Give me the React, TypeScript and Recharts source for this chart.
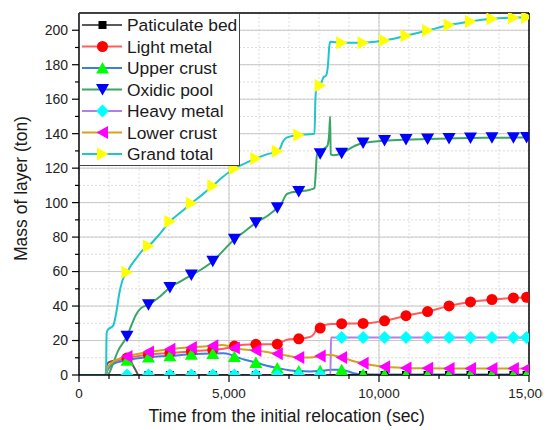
import React from "react";
import { LineChart, Line, XAxis, YAxis, CartesianGrid, Legend, Label, ReferenceLine } from "recharts";

const FONT = '"Liberation Sans", Arial, sans-serif';

// sample times (sec) where Origin put a symbol
const markerTimes = [1600, 2315, 3030, 3745, 4460, 5180, 5895, 6610, 7325, 8040, 8755, 9470, 10185, 10900, 11620, 12335, 13050, 13765, 14480, 14920];

const xTicks = [0, 1000, 2000, 3000, 4000, 5000, 6000, 7000, 8000, 9000, 10000, 11000, 12000, 13000, 14000, 15000];
const xMajor = [0, 5000, 10000, 15000];
const yTicks = [0, 10, 20, 30, 40, 50, 60, 70, 80, 90, 100, 110, 120, 130, 140, 150, 160, 170, 180, 190, 200];
const yMajor = [0, 20, 40, 60, 80, 100, 120, 140, 160, 180, 200];

const paticulateBed: [number, number][] = [
  [0, 0], [880, 0], [930, 6], [1000, 7.5], [1200, 8.4], [1400, 9.3], [1600, 9.8], [1700, 8.5], [1800, 5.5],
  [1900, 2.5], [1980, 0], [2315, 0], [3030, 0], [3745, 0], [4460, 0], [5180, 0], [5895, 0], [6610, 0],
  [7325, 0], [8040, 0], [8755, 0], [9470, 0], [10185, 0], [10900, 0], [11620, 0], [12335, 0], [13050, 0],
  [13765, 0], [14480, 0], [14920, 0], [15000, 0],
];

const lightMetal: [number, number][] = [
  [0, 0], [880, 0], [950, 3], [1050, 5.5], [1200, 7.8], [1400, 9], [1600, 9.8], [1900, 10.8], [2315, 11.8],
  [3030, 12.7], [3745, 13.7], [4460, 14.6], [4900, 15.5], [5180, 16.8], [5500, 17.5], [5895, 17.8],
  [6610, 17.9], [6800, 19.5], [7000, 20.8], [7325, 21], [7700, 22], [7820, 23.5], [7920, 26.5], [8040, 27.2],
  [8200, 29], [8400, 29.6], [8755, 29.8], [9470, 29.9], [10185, 31.4], [10900, 34.4], [11620, 36.8],
  [12335, 40.1], [13050, 42.4], [13765, 43.8], [14480, 44.7], [14920, 45.1], [15000, 45.2],
];

const upperCrust: [number, number][] = [
  [0, 0], [880, 0], [950, 3], [1100, 6], [1300, 7.5], [1600, 8.6], [1900, 9.6], [2315, 10.4], [3030, 11.1],
  [3745, 12], [4460, 12.5], [4800, 12.6], [5000, 12.1], [5180, 10.8], [5500, 9], [5895, 7.2], [6300, 5.2],
  [6610, 4.1], [7000, 2.8], [7325, 2.3], [7700, 2.1], [8040, 2.4], [8400, 3], [8755, 3.1], [8950, 2.2],
  [9150, 1.1], [9470, 0.5], [10185, 0.3], [10900, 0.3], [11620, 0.3], [12335, 0.3], [13050, 0.3],
  [13765, 0.3], [14480, 0.3], [14920, 0.3], [15000, 0.3],
];

const oxidicPool: [number, number][] = [
  [0, 0], [950, 0], [1000, 1], [1100, 5], [1300, 14], [1600, 22.5], [1750, 29], [1900, 35], [2050, 38.5],
  [2315, 40.8], [2700, 45.5], [3030, 50.8], [3400, 54.5], [3745, 58], [4100, 61.5], [4460, 66], [4800, 72],
  [5180, 78.8], [5500, 83], [5895, 88.3], [6300, 92.5], [6610, 97], [6750, 99.5], [6900, 104.5],
  [7000, 105.5], [7325, 106.5], [7700, 107.5], [7850, 108.5], [7900, 120], [7930, 128], [8040, 128.4],
  [8150, 131], [8280, 133], [8340, 140], [8370, 150], [8390, 128], [8500, 127.5], [8755, 128.6],
  [9000, 131], [9200, 133], [9470, 134.6], [10185, 136], [10900, 136.6], [11620, 136.9], [12335, 137.2],
  [13050, 137.5], [13765, 137.6], [14480, 137.7], [14920, 137.8], [15000, 137.8],
];

const heavyMetal: [number, number][] = [
  [0, 0], [1600, 0], [2315, 0], [3030, 0], [3745, 0], [4460, 0], [5180, 0], [5895, 0], [6610, 0],
  [7325, 0], [8040, 0], [8380, 0], [8400, 21.7], [8755, 21.7], [9470, 21.7], [10185, 21.7], [10900, 21.7],
  [11620, 21.7], [12335, 21.7], [13050, 21.7], [13765, 21.7], [14480, 21.7], [14920, 21.7], [15000, 21.7],
];

const lowerCrust: [number, number][] = [
  [0, 0], [880, 0], [950, 4], [1100, 7.2], [1300, 9.2], [1600, 10.8], [1900, 12], [2315, 13.4], [3030, 15],
  [3745, 16], [4460, 16.9], [4750, 17.4], [4950, 17], [5180, 15.6], [5500, 14.8], [5895, 14.2],
  [6610, 12.3], [7000, 11], [7325, 10.2], [7700, 10.2], [8040, 11], [8300, 11.8], [8500, 11.3],
  [8755, 10.2], [9100, 8.3], [9470, 6.8], [9800, 5.6], [10185, 4.8], [10600, 4.3], [10900, 4.1],
  [11620, 3.9], [12335, 3.8], [13050, 3.8], [13765, 3.8], [14480, 3.8], [14920, 3.8], [15000, 3.8],
];

const grandTotal: [number, number][] = [
  [0, 0], [900, 0], [920, 24], [950, 26], [1100, 28], [1150, 29], [1250, 37], [1350, 48], [1450, 55],
  [1600, 59.6], [1750, 64], [1900, 67.5], [2100, 72], [2315, 74.8], [2700, 82], [3030, 89], [3400, 94.5],
  [3745, 99.6], [4100, 104.5], [4460, 109.8], [4800, 115], [5180, 119.8], [5500, 122.5], [5895, 125.6],
  [6250, 128], [6610, 129.8], [6700, 131.4], [6800, 135.5], [6900, 137.5], [7100, 138.6], [7325, 139.2],
  [7850, 140], [7880, 160], [7920, 167], [8040, 168], [8100, 170.5], [8150, 172.8], [8230, 173.5],
  [8300, 180], [8340, 190], [8370, 193.3], [8755, 192.7], [9470, 192.8], [10185, 194], [10900, 196.8],
  [11620, 199.8], [12335, 203], [13050, 205.1], [13765, 206.6], [14480, 207.3], [14920, 207.6], [15000, 207.7],
];

type Shape = "square" | "circle" | "up" | "down" | "diamond" | "left" | "right";

const series: { name: string; points: [number, number][]; line: string; fill: string; shape: Shape }[] = [
  { name: "Paticulate bed", points: paticulateBed, line: "#5a5a5a", fill: "#000000", shape: "square" },
  { name: "Light metal", points: lightMetal, line: "#ff5c5c", fill: "#ff0000", shape: "circle" },
  { name: "Upper crust", points: upperCrust, line: "#3d7ee0", fill: "#00ff00", shape: "up" },
  { name: "Oxidic pool", points: oxidicPool, line: "#3aa565", fill: "#0000ff", shape: "down" },
  { name: "Heavy metal", points: heavyMetal, line: "#b27ee8", fill: "#00ffff", shape: "diamond" },
  { name: "Lower crust", points: lowerCrust, line: "#d4a21c", fill: "#ff00ff", shape: "left" },
  { name: "Grand total", points: grandTotal, line: "#20c5cc", fill: "#ffff00", shape: "right" },
];

function Marker({ cx, cy, shape, fill }: { cx: number; cy: number; shape: Shape; fill: string }) {
  switch (shape) {
    case "square":
      return <rect x={cx - 4} y={cy - 4} width={8} height={8} fill={fill} />;
    case "circle":
      return <circle cx={cx} cy={cy} r={5.5} fill={fill} />;
    case "up":
      return <polygon points={`${cx},${cy - 6} ${cx - 6.5},${cy + 5.5} ${cx + 6.5},${cy + 5.5}`} fill={fill} />;
    case "down":
      return <polygon points={`${cx},${cy + 6} ${cx - 6.5},${cy - 5.5} ${cx + 6.5},${cy - 5.5}`} fill={fill} />;
    case "diamond":
      return <polygon points={`${cx},${cy - 6.5} ${cx + 6.5},${cy} ${cx},${cy + 6.5} ${cx - 6.5},${cy}`} fill={fill} />;
    case "left":
      return <polygon points={`${cx - 6},${cy} ${cx + 5.5},${cy - 6.5} ${cx + 5.5},${cy + 6.5}`} fill={fill} />;
    default:
      return <polygon points={`${cx + 6},${cy} ${cx - 5.5},${cy - 6.5} ${cx - 5.5},${cy + 6.5}`} fill={fill} />;
  }
}

const X_TICK_SIZE = 7;
const X_TICK_MARGIN = 6;
const Y_TICK_SIZE = 7;
const Y_TICK_MARGIN = 4;

const XTick = (props: any) => {
  const { x, y, payload } = props;
  const v = payload.value as number;
  const major = xMajor.includes(v);
  const axisY = y - X_TICK_MARGIN - X_TICK_SIZE;
  return (
    <g>
      <line x1={x} x2={x} y1={axisY} y2={axisY + (major ? 7 : 4)} stroke="#000" strokeWidth={1.2} />
      {major && (
        <text x={x} y={y} dy="0.71em" textAnchor="middle" fontSize={13.5} fontFamily={FONT} fill="#222">
          {v.toLocaleString("en-US")}
        </text>
      )}
    </g>
  );
};

const YTick = (props: any) => {
  const { x, y, payload } = props;
  const v = payload.value as number;
  const major = yMajor.includes(v);
  const axisX = x + Y_TICK_MARGIN + Y_TICK_SIZE;
  return (
    <g>
      <line x1={axisX - (major ? 7 : 4)} x2={axisX} y1={y} y2={y} stroke="#000" strokeWidth={1.2} />
      {major && (
        <text x={x} y={y} dy="0.35em" textAnchor="end" fontSize={14} fontFamily={FONT} fill="#222">
          {v}
        </text>
      )}
    </g>
  );
};

const renderLegend = () => (
  <svg width={161} height={153} style={{ display: "block" }}>
    <rect x={0.5} y={0.5} width={160} height={152} fill="#fff" stroke="#444" strokeWidth={1} />
    {series.map((s, i) => {
      const cy = 12 + i * 21.5;
      return (
        <g key={s.name}>
          <line x1={3} x2={43} y1={cy} y2={cy} stroke={s.line} strokeWidth={2} />
          <Marker cx={23.5} cy={cy} shape={s.shape} fill={s.fill} />
          <text x={48} y={cy} dy="0.36em" fontSize={17.4} fontFamily={FONT} fill="#1a1a1a">
            {s.name}
          </text>
        </g>
      );
    })}
  </svg>
);

export default function App() {
  return (
    <div style={{ position: "relative", width: 551, height: 430, margin: "-8px 0 0 -8px" }}>
      <LineChart width={551} height={430} margin={{ top: 13, right: 22, bottom: 0, left: 29 }}>
        <CartesianGrid stroke="#dcdcdc" strokeDasharray="2 2" />
        {yMajor.slice(1).map((v) => (
          <ReferenceLine key={`h${v}`} y={v} stroke="#c8c8c8" strokeWidth={1} />
        ))}
        {xMajor.slice(1, -1).map((v) => (
          <ReferenceLine key={`v${v}`} x={v} stroke="#c8c8c8" strokeWidth={1} />
        ))}
        <XAxis
          type="number"
          dataKey="t"
          domain={[0, 15000]}
          ticks={xTicks}
          interval={0}
          allowDataOverflow
          height={55}
          tickSize={X_TICK_SIZE}
          tickMargin={X_TICK_MARGIN}
          tickLine={false}
          tick={XTick}
          axisLine={{ stroke: "#000", strokeWidth: 1.5 }}
        >
          <Label
            content={() => (
              <text x={286.7} y={422} textAnchor="middle" fontSize={17.5} fontFamily={FONT} fill="#1a1a1a">
                Time from the initial relocation (sec)
              </text>
            )}
          />
        </XAxis>
        <XAxis
          xAxisId="top"
          orientation="top"
          type="number"
          domain={[0, 15000]}
          ticks={xTicks}
          interval={0}
          allowDataOverflow
          mirror
          tick={false}
          tickSize={5}
          tickLine={{ stroke: "#000", strokeWidth: 1.2 }}
          axisLine={{ stroke: "#000", strokeWidth: 1.5 }}
        />
        <YAxis
          type="number"
          domain={[0, 210]}
          ticks={yTicks}
          interval={0}
          allowDataOverflow
          width={50}
          tickSize={Y_TICK_SIZE}
          tickMargin={Y_TICK_MARGIN}
          tickLine={false}
          tick={YTick}
          axisLine={{ stroke: "#000", strokeWidth: 1.5 }}
        >
          <Label
            content={() => (
              <text
                x={26.5}
                y={188.5}
                transform="rotate(-90, 26.5, 188.5)"
                textAnchor="middle"
                fontSize={17.5}
                fontFamily={FONT}
                fill="#1a1a1a"
              >
                Mass of layer (ton)
              </text>
            )}
          />
        </YAxis>
        <YAxis
          yAxisId="right"
          orientation="right"
          type="number"
          domain={[0, 210]}
          ticks={yTicks}
          interval={0}
          allowDataOverflow
          mirror
          tick={false}
          tickSize={5}
          tickLine={{ stroke: "#000", strokeWidth: 1.2 }}
          axisLine={{ stroke: "#000", strokeWidth: 1.5 }}
        />
        <Legend
          layout="horizontal"
          verticalAlign="middle"
          align="center"
          wrapperStyle={{ top: 13, left: 79, width: 161, height: 153 }}
          content={renderLegend}
        />
        {series.map((s) => (
          <Line
            key={s.name}
            name={s.name}
            data={s.points.map(([t, v]) => ({ t, v }))}
            dataKey="v"
            type="monotone"
            stroke={s.line}
            strokeWidth={2}
            isAnimationActive={false}
            activeDot={false}
            dot={(p: any) => {
              const k = `${s.name}-${p.index}`;
              if (!markerTimes.includes(p.payload.t)) return <g key={k} />;
              return (
                <g key={k}>
                  <Marker cx={p.cx} cy={p.cy} shape={s.shape} fill={s.fill} />
                </g>
              );
            }}
          />
        ))}
      </LineChart>
    </div>
  );
}
